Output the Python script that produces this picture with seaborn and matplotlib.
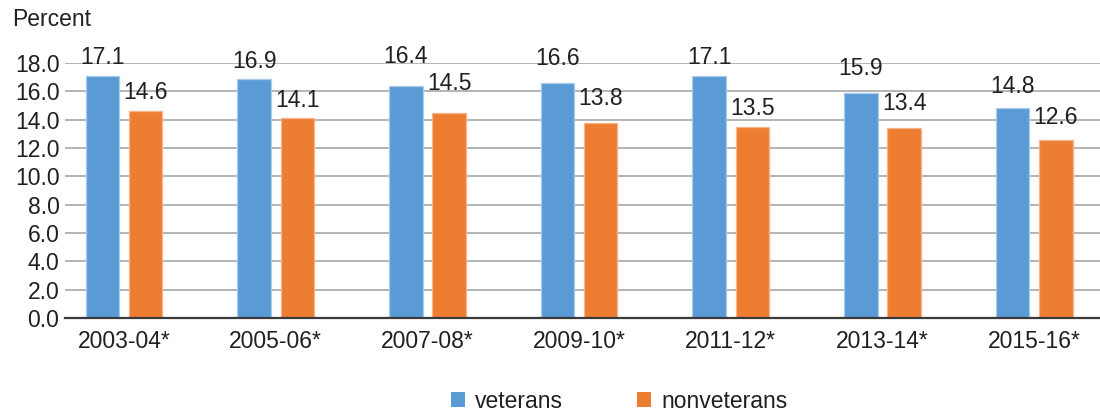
import matplotlib
matplotlib.use("Agg")
import matplotlib.pyplot as plt
from matplotlib.patches import Patch
import pandas as pd
import seaborn as sns

# Two-year survey periods and the share of each group (percent)
periods = ["2003-04*", "2005-06*", "2007-08*", "2009-10*", "2011-12*", "2013-14*", "2015-16*"]
veterans = [17.1, 16.9, 16.4, 16.6, 17.1, 15.9, 14.8]
nonveterans = [14.6, 14.1, 14.5, 13.8, 13.5, 13.4, 12.6]
groups = ["veterans", "nonveterans"]
y_ticks = [0, 2, 4, 6, 8, 10, 12, 14, 16, 18]

# Vertical lift of each pair of value labels above the bar tops (pixels)
label_lift_px = [18.5, 17.5, 29, 24, 18, 24.5, 22]

colors = {"veterans": "#5B9BD5", "nonveterans": "#ED7D31"}
edges = {"veterans": "#A9CBEA", "nonveterans": "#F6B58A"}

df = pd.DataFrame({
    "period": periods * 2,
    "group": ["veterans"] * len(periods) + ["nonveterans"] * len(periods),
    "value": veterans + nonveterans,
})

sns.set_theme(style="white")
plt.rcParams["font.family"] = ["Liberation Sans", "DejaVu Sans"]
FS = 16.5

fig = plt.figure(figsize=(11, 4.13), dpi=100)
ax = fig.add_axes([65 / 1100, (413 - 318) / 413, 1 - 65 / 1100, (318 - 63) / 413])

sns.barplot(data=df, x="period", y="value", hue="group", hue_order=groups,
            order=periods, palette=colors, width=0.57, gap=0.225,
            saturation=1, legend=False, ax=ax, zorder=3)

for cont, g in zip(ax.containers, groups):
    for bar in cont.patches:
        bar.set_edgecolor(edges[g])
        bar.set_linewidth(0.9)

ax.set_ylim(0, 18)
ax.set_xlim(-0.389, 6.434)
ax.set_yticks(y_ticks)
ax.set_yticklabels([f"{t:.1f}" for t in y_ticks], fontsize=FS, color="#231F20")
ax.tick_params(axis="y", length=0, pad=4)
ax.tick_params(axis="x", length=0, pad=9, labelsize=FS, labelcolor="#231F20")
ax.set_xlabel("")
ax.set_ylabel("")
ax.yaxis.grid(True, color="#A8A8A8", linewidth=1.2, zorder=0)
ax.set_axisbelow(True)
for s in ["top", "right", "left"]:
    ax.spines[s].set_visible(False)
ax.spines["bottom"].set_color("#3A3A3A")
ax.spines["bottom"].set_linewidth(1.6)
ax.spines["bottom"].set_zorder(4)

# Value labels centred over each bar
series = {"veterans": veterans, "nonveterans": nonveterans}
for cont, g in zip(ax.containers, groups):
    for i, bar in enumerate(cont.patches):
        v = series[g][i]
        ax.annotate(f"{v:.1f}", xy=(bar.get_x() + bar.get_width() / 2, v),
                    xytext=(0, label_lift_px[i] * 0.72), textcoords="offset points",
                    ha="center", va="center", fontsize=FS, color="#231F20",
                    annotation_clip=False)

fig.text(12 / 1100, 1 - 19 / 413, "Percent", fontsize=FS, color="#231F20",
         ha="left", va="center")

handles = [Patch(facecolor=colors[g], edgecolor="none", label=g) for g in groups]
fig.legend(handles=handles, loc="center", bbox_to_anchor=(619 / 1100, 1 - 401 / 413),
           ncol=2, frameon=False, fontsize=FS, handlelength=0.62, handleheight=0.62,
           handletextpad=0.45, columnspacing=3.2, borderaxespad=0, borderpad=0,
           labelcolor="#231F20")

fig.savefig("out.png", dpi=100)
